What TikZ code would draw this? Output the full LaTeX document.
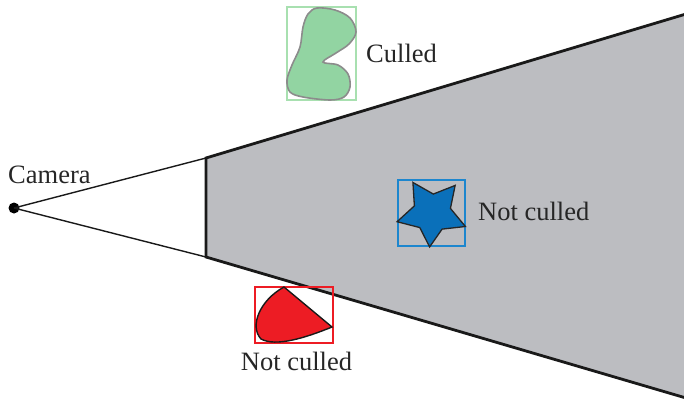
\documentclass[tikz,border=0pt]{standalone}
\usepackage{fontspec}
\setmainfont{Liberation Serif}
\begin{document}
\begin{tikzpicture}[x=1pt,y=-1pt,
  lbl/.style={font=\fontsize{26.5}{30}\selectfont, text=black!85, inner sep=0pt},
  thin edge/.style={line width=1.4pt, black!90},
  thick edge/.style={line width=2.8pt, black!90, line join=miter},
  boundbox/.style={line width=1.3pt}]
\definecolor{frust}{RGB}{188,189,193}
\definecolor{gfill}{RGB}{146,212,162}
\definecolor{gboxc}{RGB}{168,224,176}
\definecolor{bfill}{RGB}{10,112,186}
\definecolor{bboxc}{RGB}{28,134,206}
\definecolor{rfill}{RGB}{237,28,36}
\useasboundingbox (0,0) rectangle (684,400);
% frustum
\coordinate (n1) at (206,158);
\coordinate (n2) at (206,257);
\coordinate (f1) at (686,14);
\coordinate (f2) at (686,398);
\fill[frust] (n1) -- (f1) -- (f2) -- (n2) -- cycle;
\draw[thick edge] (f1) -- (n1) -- (n2) -- (f2);
% camera
\node[circle, fill=black, inner sep=0pt, minimum size=11pt] (cam) at (14,208) {};
\draw[thin edge] (cam.center) -- (n1);
\draw[thin edge] (cam.center) -- (n2);
\node[lbl, anchor=base west] (camlbl) at (8,183) {Camera};
% green culled object
\draw[gboxc, boundbox] (287,7) rectangle (356,100);
\draw[fill=gfill, draw=black!45, line width=1.6pt]
  plot[smooth cycle, tension=0.55] coordinates {(317,8) (335,10) (350,18) (356,32) (349,44) (336,53) (323,62) (338,65) (348,74) (350,87) (344,97) (330,100) (303,97) (290,92) (287,80) (292,65) (300,47) (303,27) (308,14)};
\node[lbl, anchor=base west] (culled) at (366,62) {Culled};
% blue star
\draw[bboxc, boundbox] (398,180) rectangle (465,246);
\coordinate (sc) at (432,213);
\draw[fill=bfill, draw=black!85, line width=1.3pt]
  ([shift={(-122:36)}]sc) -- ([shift={(-86:19)}]sc) -- ([shift={(-50:36)}]sc) -- ([shift={(-14:19)}]sc) -- ([shift={(22:36)}]sc) -- ([shift={(58:19)}]sc) -- ([shift={(94:34)}]sc) -- ([shift={(130:19)}]sc) -- ([shift={(166:36)}]sc) -- ([shift={(-158:19)}]sc) -- cycle;
\node[lbl, anchor=base west] (nc1) at (478,220) {Not culled};
% red object
\draw[rfill, boundbox] (255,287) rectangle (333,343);
\draw[fill=rfill, draw=black!90, line width=1.4pt]
  (284,287) -- (332,327) .. controls (305,338) and (276,347) .. (261,339) .. controls (249,326) and (260,300) .. (284,287) -- cycle;
\node[lbl, anchor=base] (nc2) at (296.5,370) {Not culled};
\end{tikzpicture}
\end{document}
